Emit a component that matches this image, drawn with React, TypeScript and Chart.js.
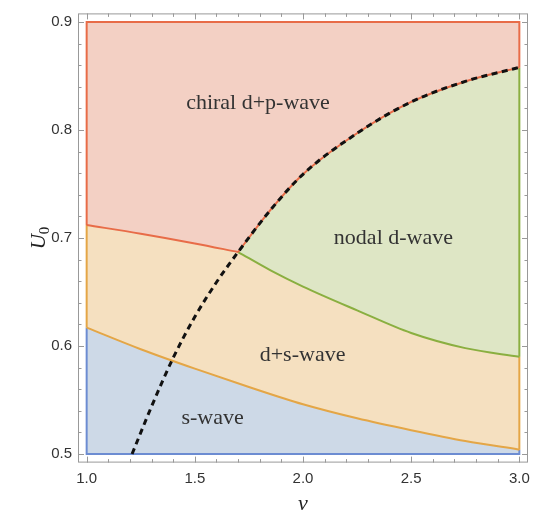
import React, { useEffect, useRef } from 'react';
import { Chart, registerables } from 'chart.js';

Chart.register(...registerables);

// ---- data ----
const nuMin = 1.0;
const nuMax = 3.0;
const uMin = 0.5;
const uMax = 0.9;

// s-wave / d+s-wave boundary
const sBoundaryNu = [1.0, 1.25, 1.5, 1.75, 2.0, 2.25, 2.5, 2.75, 3.0];
const sBoundaryU = [0.617, 0.597, 0.579, 0.562, 0.546, 0.533, 0.522, 0.512, 0.504];

// chiral d+p-wave / d+s-wave boundary
const chiralBoundaryNu = [1.0, 1.25, 1.5, 1.7];
const chiralBoundaryU = [0.712, 0.704, 0.695, 0.687];

// nodal d-wave / d+s-wave boundary
const nodalBoundaryNu = [1.7, 1.85, 2.0, 2.25, 2.5, 2.75, 3.0];
const nodalBoundaryU = [0.687, 0.67, 0.655, 0.633, 0.612, 0.598, 0.59];

// dashed black curve
const dashedNu = [1.21, 1.3, 1.4, 1.5, 1.6, 1.7, 1.85, 2.0, 2.25, 2.5, 2.75, 3.0];
const dashedU = [0.5, 0.544, 0.589, 0.627, 0.659, 0.687, 0.726, 0.759, 0.797, 0.826, 0.845, 0.858];

const xTickValues = [1.0, 1.5, 2.0, 2.5, 3.0];
const yTickValues = [0.5, 0.6, 0.7, 0.8, 0.9];

const regionLabels = ['chiral d+p-wave', 'nodal d-wave', 'd+s-wave', 's-wave'];
const regionLabelNu = [1.792, 2.418, 1.998, 1.582];
const regionLabelU = [0.8194, 0.6944, 0.5864, 0.5275];

// ---- styles ----
const fillRed = 'rgb(243,208,196)';
const fillTan = 'rgb(245,224,192)';
const fillBlue = 'rgb(205,217,231)';
const fillGreen = 'rgb(222,230,197)';
const lineRed = 'rgb(232,108,72)';
const lineOrange = 'rgb(228,166,70)';
const lineBlue = 'rgb(108,140,210)';
const lineGreen = 'rgb(138,175,64)';

type P = { x: number; y: number | null };
const pts = (xs: number[], ys: number[]): P[] => xs.map((x, i) => ({ x, y: ys[i] }));

const sCurve = pts(sBoundaryNu, sBoundaryU);
const chiralCurve = pts(chiralBoundaryNu, chiralBoundaryU);
const nodalCurve = pts(nodalBoundaryNu, nodalBoundaryU);
const dashedCurve = pts(dashedNu, dashedU);
const junctionNu = chiralBoundaryNu[chiralBoundaryNu.length - 1];
const dashedUpper = dashedCurve.filter((p) => p.x >= junctionNu);
const tanUpper = [...chiralCurve, ...nodalCurve.filter((p) => p.x > junctionNu)];

const sLeft = sBoundaryU[0];
const sRight = sBoundaryU[sBoundaryU.length - 1];
const chiralLeft = chiralBoundaryU[0];
const nodalRight = nodalBoundaryU[nodalBoundaryU.length - 1];
const dashedRight = dashedU[dashedU.length - 1];

const topLine: P[] = [
  { x: nuMin, y: uMax },
  { x: nuMax, y: uMax },
];
const blueEdge: P[] = [
  { x: nuMin, y: sLeft },
  { x: nuMin, y: uMin },
  { x: nuMax, y: uMin },
  { x: nuMax, y: sRight },
];
const orangeEdges: P[] = [
  { x: nuMin, y: sLeft },
  { x: nuMin, y: chiralLeft },
  { x: 2, y: null },
  { x: nuMax, y: sRight },
  { x: nuMax, y: nodalRight },
];
const greenEdge: P[] = [
  { x: nuMax, y: nodalRight },
  { x: nuMax, y: dashedRight },
];
const redEdges: P[] = [
  { x: nuMin, y: chiralLeft },
  { x: nuMin, y: uMax },
  { x: nuMax, y: uMax },
  { x: nuMax, y: dashedRight },
];

const serif = '"Liberation Serif", "DejaVu Serif", serif';
const sans = '"Liberation Sans", Arial, sans-serif';

const framePlugin = {
  id: 'frameTicks',
  afterDatasetsDraw(chart: any) {
    const { ctx, chartArea, scales } = chart;
    const { left, right, top, bottom } = chartArea;
    const xs = scales.x;
    const ys = scales.y;
    ctx.save();
    // region labels
    ctx.fillStyle = '#333';
    ctx.font = `22px ${serif}`;
    ctx.textAlign = 'center';
    ctx.textBaseline = 'alphabetic';
    regionLabels.forEach((t, i) => {
      ctx.fillText(t, xs.getPixelForValue(regionLabelNu[i]), ys.getPixelForValue(regionLabelU[i]));
    });
    // frame
    ctx.strokeStyle = '#999';
    ctx.lineWidth = 1;
    ctx.strokeRect(left + 0.5, top + 0.5, right - left - 1, bottom - top - 1);
    // ticks
    ctx.beginPath();
    for (let i = 10; i <= 30; i++) {
      const px = Math.round(xs.getPixelForValue(i / 10)) + 0.5;
      const len = i % 5 === 0 ? 6 : 3.5;
      ctx.moveTo(px, bottom);
      ctx.lineTo(px, bottom - len);
      ctx.moveTo(px, top);
      ctx.lineTo(px, top + len);
    }
    for (let i = 25; i <= 45; i++) {
      const py = Math.round(ys.getPixelForValue(i / 50)) + 0.5;
      const len = i % 5 === 0 ? 6 : 3.5;
      ctx.moveTo(left, py);
      ctx.lineTo(left + len, py);
      ctx.moveTo(right, py);
      ctx.lineTo(right - len, py);
    }
    ctx.stroke();
    // axis titles
    ctx.fillStyle = '#222';
    ctx.font = `italic 22px ${serif}`;
    ctx.textAlign = 'center';
    ctx.fillText('\u03bd', (left + right) / 2, 502);
    ctx.translate(37, (top + bottom) / 2);
    ctx.rotate(-Math.PI / 2);
    ctx.textAlign = 'left';
    ctx.font = `15px ${serif}`;
    const sw = ctx.measureText('0').width;
    ctx.font = `italic 21px ${serif}`;
    const uw = ctx.measureText('U').width;
    const start = -(uw + sw) / 2;
    ctx.fillText('U', start, 0);
    ctx.font = `15px ${serif}`;
    ctx.fillText('0', start + uw, 4);
    ctx.restore();
  },
};

export default function App() {
  const ref = useRef<HTMLCanvasElement>(null);
  useEffect(() => {
    const fillSet = (data: P[], fill: any, color: string, order: number) => ({
      data,
      showLine: true,
      fill,
      backgroundColor: color,
      borderColor: color,
      borderWidth: 0,
      pointRadius: 0,
      cubicInterpolationMode: 'monotone',
      order,
    });
    const lineSet = (data: P[], color: string, smooth: boolean, order: number) => ({
      data,
      showLine: true,
      fill: false,
      borderColor: color,
      backgroundColor: color,
      borderWidth: 2,
      pointRadius: 0,
      spanGaps: false,
      tension: 0,
      cubicInterpolationMode: smooth ? 'monotone' : 'default',
      order,
    });
    const chart = new Chart(ref.current as HTMLCanvasElement, {
      type: 'scatter',
      data: {
        datasets: [
          // 0: chiral d+p-wave (red) background over the whole range
          fillSet(topLine, { value: uMin }, fillRed, 30),
          // 1: s-wave fill (blue) under the s boundary
          fillSet(sCurve, { value: uMin }, fillBlue, 29),
          // 2: d+s-wave fill (tan) between the s boundary and the upper boundary
          fillSet(tanUpper, 1, fillTan, 28),
          // 3: nodal d-wave boundary (target for green)
          fillSet(nodalCurve, false, 'rgba(0,0,0,0)', 27),
          // 4: nodal d-wave fill (green) between dashed curve and nodal boundary
          fillSet(dashedUpper, 3, fillGreen, 26),
          // boundaries
          lineSet(blueEdge, lineBlue, false, 12),
          lineSet(sCurve, lineOrange, true, 11),
          lineSet(orangeEdges, lineOrange, false, 11),
          lineSet(nodalCurve, lineGreen, true, 10),
          lineSet(greenEdge, lineGreen, false, 10),
          lineSet(chiralCurve, lineRed, true, 9),
          lineSet(dashedUpper, lineRed, true, 9),
          lineSet(redEdges, lineRed, false, 9),
          {
            data: dashedCurve,
            showLine: true,
            fill: false,
            borderColor: '#111',
            borderWidth: 3,
            borderDash: [6, 4.5],
            pointRadius: 0,
            cubicInterpolationMode: 'monotone',
            order: 0,
          },
        ] as any,
      },
      options: {
        animation: false,
        responsive: false,
        layout: { padding: { top: 5.4, right: 3, left: 0, bottom: 0 } },
        plugins: { legend: { display: false }, tooltip: { enabled: false } },
        scales: {
          x: {
            type: 'linear',
            min: 0.96,
            max: 3.04,
            grid: { display: false, drawTicks: false },
            border: { display: false },
            afterBuildTicks: (s: any) => {
              s.ticks = xTickValues.map((value) => ({ value }));
            },
            afterFit: (s: any) => {
              s.height = 52.4;
              s.paddingLeft = 0;
              s.paddingRight = 0;
              s.paddingTop = 0;
              s.paddingBottom = 0;
            },
            ticks: {
              padding: 7,
              color: '#333',
              font: { family: sans, size: 15 },
              callback: (v: any) => Number(v).toFixed(1),
            },
          },
          y: {
            type: 'linear',
            min: 0.492,
            max: 0.908,
            grid: { display: false, drawTicks: false },
            border: { display: false },
            afterBuildTicks: (s: any) => {
              s.ticks = yTickValues.map((value) => ({ value }));
            },
            afterFit: (s: any) => {
              s.width = 70;
              s.paddingLeft = 0;
              s.paddingRight = 0;
              s.paddingTop = 0;
              s.paddingBottom = 0;
            },
            ticks: {
              padding: 6,
              color: '#333',
              font: { family: sans, size: 15 },
              callback: (v: any) => Number(v).toFixed(1),
            },
          },
        },
      } as any,
      plugins: [framePlugin],
    });
    return () => chart.destroy();
  }, []);
  return (
    <div style={{ width: 523, height: 507 }}>
      <canvas ref={ref} width={523} height={507} style={{ display: 'block' }} />
    </div>
  );
}
